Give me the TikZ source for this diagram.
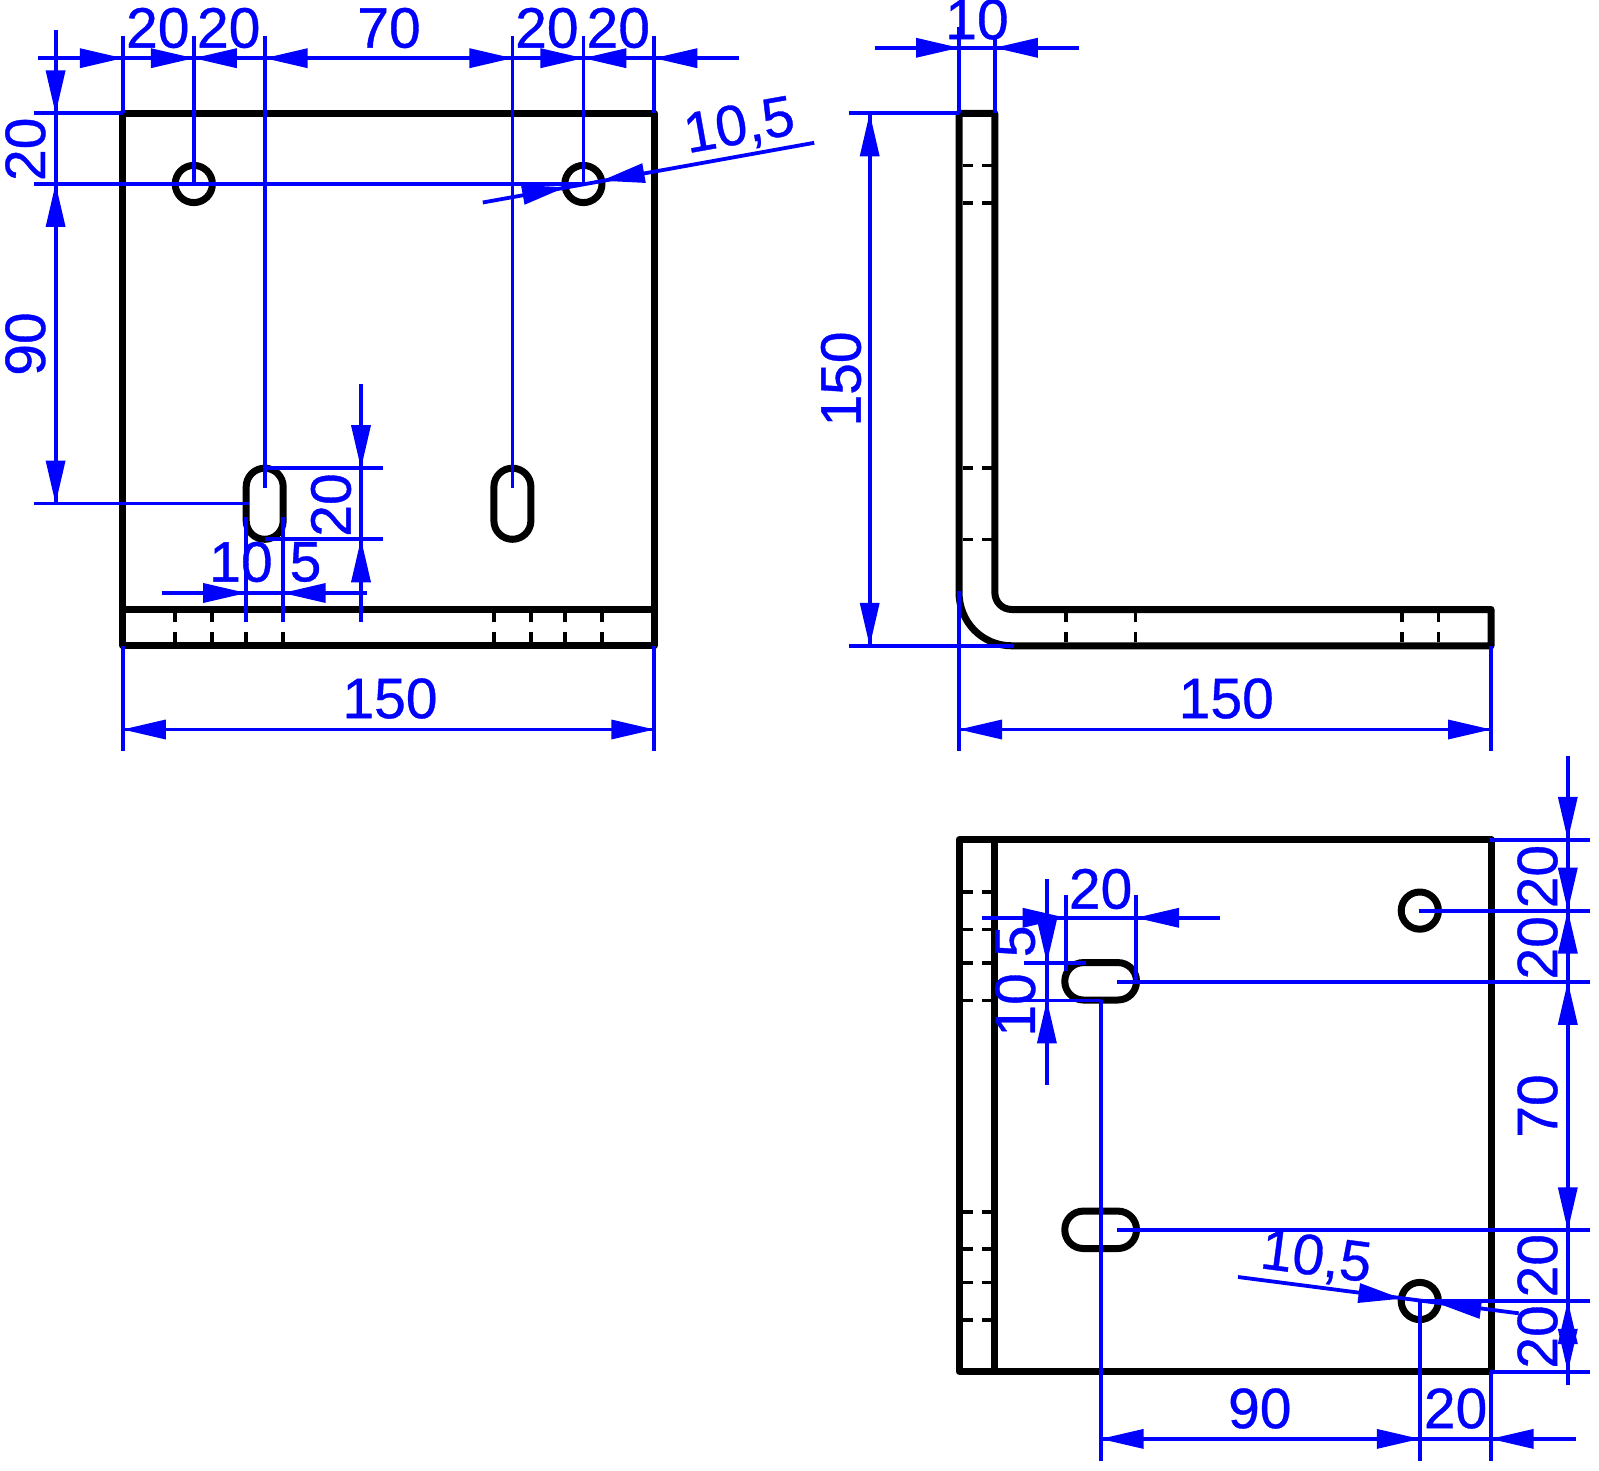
\documentclass[tikz,border=0pt]{standalone}
\usepackage{fontspec}
\setmainfont{Liberation Sans}
\newfontfamily\dimf[FakeBold=0.6]{Liberation Sans}
\definecolor{dimc}{RGB}{0,0,255}
\tikzset{
  outl/.style={draw=black,line width=7pt,line cap=rect,line join=round},
  hid/.style={draw=black,line width=3.6pt},
  dl/.style={draw=dimc,line width=3.8pt},
  lab/.style={text=dimc,inner sep=0pt,font=\dimf\fontsize{57}{57}\selectfont},
}
\newcommand\arw[3]{\fill[dimc,shift={(#1,#2)},rotate=#3] (0,0)--(-43,10)--(-43,-10)--cycle;}
\newcommand\hdsh[1]{\draw[hid] (963.4,#1)--(973.2,#1) (982,#1)--(992,#1);}
\newcommand\vdsh[1]{\draw[hid] (#1,613)--(#1,622) (#1,632)--(#1,642);}
\begin{document}
\begin{tikzpicture}[x=1pt,y=-1pt]
\useasboundingbox (0,0) rectangle (1599,1471);
% ---------- view 1 : outlines
\draw[outl] (122.8,113.4) rectangle (654.3,645.8);
\draw[outl] (122.8,609.5)--(654.3,609.5);
\foreach \x in {193.8,583.4} \draw[outl] (\x,184) circle (18.6);
\foreach \x in {264.7,512.4} \draw[outl,rounded corners=18.5] (\x-18.5,468.2) rectangle (\x+18.5,539.3);
\foreach \x in {174.7,211.8,246.2,282.7,493.9,531,564.8,601.9} {\vdsh{\x}}
% ---------- view 2 : outlines
\draw[outl] (959,113.4)--(994.8,113.4)--(994.8,592) .. controls (994.8,602) and (1002,609.5) .. (1012,609.5)--(1491,609.5)--(1491,645.8)--(1012,645.8) .. controls (982,645.8) and (959,622) .. (959,592)--cycle;
\foreach \y in {165.7,203,468.2,539.3} {\hdsh{\y}}
\foreach \x in {1065.9,1135.5,1401.9,1438.6} {\vdsh{\x}}
% ---------- view 3 : outlines
\draw[outl] (959,839.8) rectangle (1491.4,1371.3);
\draw[outl] (994.4,839.8)--(994.4,1371.3);
\foreach \y in {910.6,1301} \draw[outl] (1419.8,\y) circle (18.6);
\foreach \y in {981.3,1229.8} \draw[outl,rounded corners=18.5] (1064.8,\y-18.7) rectangle (1136.5,\y+18.7);
\foreach \y in {892,929.6,962.7,1000.4,1211.7,1248.9,1282.4,1320} {\hdsh{\y}}
% ---------- view 1 : dimensions
\draw[dl] (38,58.2)--(738.5,58.2);
\foreach \x in {122.8,654.3} \draw[dl] (\x,35.8)--(\x,113.4);
\foreach \x in {193.8,583.4} \draw[dl] (\x,35.8)--(\x,184);
\foreach \x in {264.7,512.4} \draw[dl] (\x,35.8)--(\x,487.6);
\arw{122.8}{58.2}{0}\arw{193.8}{58.2}{0}\arw{193.8}{58.2}{180}\arw{264.7}{58.2}{180}
\arw{512.4}{58.2}{0}\arw{583.4}{58.2}{0}\arw{583.4}{58.2}{180}\arw{654.3}{58.2}{180}
\node[lab] (a1) at (157.8,28) {20};
\node[lab] (a2) at (228.7,28) {20};
\node[lab] (a3) at (389,28) {70};
\node[lab] (a4) at (546.9,28) {20};
\node[lab] (a5) at (618.3,28) {20};
\draw[dl] (55.6,29.9)--(55.6,503.5);
\draw[dl] (34.4,113.4)--(122.8,113.4);
\draw[dl] (34.4,184)--(583.4,184);
\draw[dl] (34.4,503.5)--(248.8,503.5);
\arw{55.6}{113.4}{-90}\arw{55.6}{184}{90}\arw{55.6}{503.5}{-90}
\node[lab,rotate=90] (a6) at (25.4,149.3) {20};
\node[lab,rotate=90] (a7) at (25.4,344) {90};
\draw[dl] (264.7,468.2)--(383.3,468.2);
\draw[dl] (264.7,539.3)--(383.3,539.3);
\draw[dl] (361,384)--(361,622);
\arw{361}{468.2}{-90}\arw{361}{539.3}{90}
\node[lab,rotate=90] (a8) at (331,505) {20};
\draw[dl] (161.5,593)--(366.9,593);
\draw[dl] (246.2,517.4)--(246.2,622);
\draw[dl] (282.7,517.4)--(282.7,622);
\arw{246.2}{593}{0}\arw{282.7}{593}{180}
\node[lab] (a9) at (241,562) {10};
\node[lab] (a10) at (305.5,562) {5};
\draw[dl] (122.8,645.8)--(122.8,751);
\draw[dl] (654.3,645.8)--(654.3,751);
\draw[dl] (122.8,729.5)--(654.3,729.5);
\arw{122.8}{729.5}{180}\arw{654.3}{729.5}{0}
\node[lab] (a11) at (390,698.5) {150};
\draw[dl] (482.8,202.5)--(814.2,142.8);
\arw{565.1}{187.3}{10.2}\arw{601.7}{180.7}{190.2}
\node[lab,rotate=10.2] (a12) at (739.5,127.5) {10,5};
% ---------- view 2 : dimensions
\draw[dl] (875,47.8)--(1078.7,47.8);
\draw[dl] (959,27)--(959,113.4);
\draw[dl] (994.8,36)--(994.8,113.4);
\arw{959}{47.8}{0}\arw{994.8}{47.8}{180}
\node[lab] (b1) at (977,19.5) {10};
\draw[dl] (869.7,113.4)--(869.7,645.8);
\draw[dl] (848.6,113.4)--(959,113.4);
\draw[dl] (848.6,645.8)--(1014,645.8);
\arw{869.7}{113.4}{90}\arw{869.7}{645.8}{-90}
\node[lab,rotate=90] (b2) at (841,379) {150};
\draw[dl] (959,591)--(959,751);
\draw[dl] (1491,645.8)--(1491,751);
\draw[dl] (959,729.5)--(1491,729.5);
\arw{959}{729.5}{180}\arw{1491}{729.5}{0}
\node[lab] (b3) at (1226.3,698.5) {150};
% ---------- view 3 : dimensions
\draw[dl] (1567.8,756)--(1567.8,1385);
\draw[dl] (1489.7,839.8)--(1590.4,839.8);
\draw[dl] (1418.5,910.6)--(1590.4,910.6);
\draw[dl] (1116.9,981.8)--(1590.4,981.8);
\draw[dl] (1116.9,1230.3)--(1590.4,1230.3);
\draw[dl] (1419.8,1301)--(1590.4,1301);
\draw[dl] (1489.7,1371.8)--(1590.4,1371.8);
\arw{1567.8}{839.8}{-90}\arw{1567.8}{910.6}{-90}\arw{1567.8}{910.6}{90}\arw{1567.8}{981.8}{90}
\arw{1567.8}{1230.3}{-90}\arw{1567.8}{1301}{90}\arw{1567.8}{1371.8}{-90}
\node[lab,rotate=90] (c1) at (1537.5,876.6) {20};
\node[lab,rotate=90] (c2) at (1537.5,947.8) {20};
\node[lab,rotate=90] (c3) at (1537.5,1106) {70};
\node[lab,rotate=90] (c4) at (1537.5,1265.7) {20};
\node[lab,rotate=90] (c5) at (1537.5,1336.9) {20};
\draw[dl] (981.6,917.8)--(1220,917.8);
\draw[dl] (1065.7,895)--(1065.7,971);
\draw[dl] (1136,895)--(1136,982);
\arw{1065.7}{917.8}{0}\arw{1136}{917.8}{180}
\node[lab] (c6) at (1100.6,889) {20};
\draw[dl] (1046.9,879.3)--(1046.9,1084.7);
\draw[dl] (1023.9,962.7)--(1085.7,962.7);
\draw[dl] (1023.9,1000.4)--(1100.6,1000.4);
\arw{1046.9}{962.7}{-90}\arw{1046.9}{1000.4}{90}
\node[lab,rotate=90] (c7) at (1015.3,941.4) {5};
\node[lab,rotate=90] (c8) at (1015.3,1004.9) {10};
\draw[dl] (1100.6,1000.4)--(1100.6,1460.7);
\draw[dl] (1419.8,1301)--(1419.8,1460.7);
\draw[dl] (1490.6,1371.8)--(1490.6,1460.7);
\draw[dl] (1100.6,1438.9)--(1576,1438.9);
\arw{1100.6}{1438.9}{180}\arw{1419.8}{1438.9}{0}\arw{1490.6}{1438.9}{180}
\node[lab] (c9) at (1259.8,1408.5) {90};
\node[lab] (c10) at (1455.6,1408.5) {20};
\draw[dl] (1238,1277)--(1518.7,1313.3);
\arw{1401.4}{1298.6}{-7.4}\arw{1438.2}{1303.4}{172.6}
\node[lab,rotate=-7.4] (c11) at (1316,1259) {10,5};
\end{tikzpicture}
\end{document}
